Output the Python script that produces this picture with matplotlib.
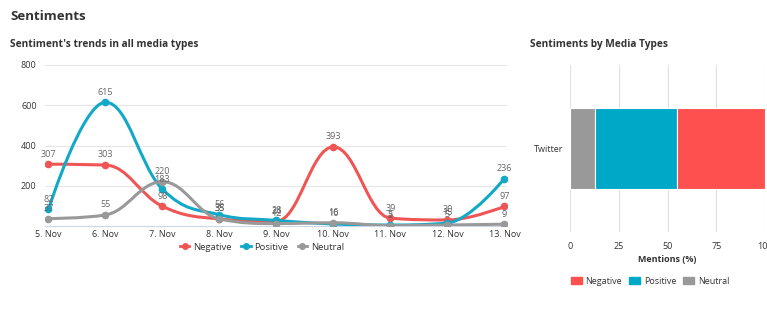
import matplotlib

matplotlib.use('Agg')
import matplotlib.pyplot as plt
from matplotlib.path import Path
from matplotlib.patches import PathPatch
from matplotlib.lines import Line2D
from matplotlib.patches import Patch
import numpy as np

# Data
days = ['5. Nov', '6. Nov', '7. Nov', '8. Nov', '9. Nov', '10. Nov', '11. Nov', '12. Nov', '13. Nov']
negative = [307, 303, 98, 35, 24, 393, 39, 30, 97]
positive = [82, 615, 183, 56, 28, 10, 5, 15, 236]
neutral = [37, 55, 220, 35, 12, 16, 2, 5, 9]

media_types = ['Twitter']
share_negative = [45]
share_positive = [42]
share_neutral = [13]

RED = '#f05555'
TEAL = '#12a9c8'
GRAY = '#999999'
BAR_RED = '#ff5050'
BAR_TEAL = '#00a8c8'
TEXT = '#333333'
LABEL = '#666666'


def splinePath(xs, ys, smoothing=1.5):
    # Highcharts-like spline: cubic bezier with control points from neighbours
    n = len(xs)
    ctrl = []
    for i in range(n):
        if i == 0 or i == n - 1:
            ctrl.append((xs[i], ys[i], xs[i], ys[i]))
            continue
        denom = smoothing + 1
        lx = (smoothing * xs[i] + xs[i - 1]) / denom
        ly = (smoothing * ys[i] + ys[i - 1]) / denom
        rx = (smoothing * xs[i] + xs[i + 1]) / denom
        ry = (smoothing * ys[i] + ys[i + 1]) / denom
        if rx != lx:
            corr = ((ry - ly) * (rx - xs[i])) / (rx - lx) + ys[i] - ry
            ly += corr
            ry += corr
        # avoid overshoot
        if ly > ys[i - 1] and ly > ys[i]:
            ly = max(ys[i - 1], ys[i])
            ry = 2 * ys[i] - ly
        elif ly < ys[i - 1] and ly < ys[i]:
            ly = min(ys[i - 1], ys[i])
            ry = 2 * ys[i] - ly
        if ry > ys[i + 1] and ry > ys[i]:
            ry = max(ys[i + 1], ys[i])
            ly = 2 * ys[i] - ry
        elif ry < ys[i + 1] and ry < ys[i]:
            ry = min(ys[i + 1], ys[i])
            ly = 2 * ys[i] - ry
        ctrl.append((lx, ly, rx, ry))
    verts = [(xs[0], ys[0])]
    codes = [Path.MOVETO]
    for i in range(1, n):
        verts += [(ctrl[i - 1][2], ctrl[i - 1][3]), (ctrl[i][0], ctrl[i][1]), (xs[i], ys[i])]
        codes += [Path.CURVE4] * 3
    return Path(verts, codes)


fig = plt.figure(figsize=(7.67, 3.22), dpi=100)
plt.rcParams['font.family'] = ['Open Sans', 'DejaVu Sans']

fig.text(10 / 767, 1 - 17 / 322, 'Sentiments', fontsize=9.5, fontweight='bold', color=TEXT, va='center')
fig.text(10 / 767, 1 - 45 / 322, "Sentiment's trends in all media types", fontsize=7.3, fontweight='bold',
         color=TEXT, va='center')
fig.text(530 / 767, 1 - 45 / 322, 'Sentiments by Media Types', fontsize=7.3, fontweight='bold',
         color=TEXT, va='center')

# ---- Line chart
ax = fig.add_axes([45 / 767, 1 - 226 / 322, 462 / 767, 161 / 322])
x = np.arange(len(days))
ax.set_xlim(-0.06, len(days) - 1 + 0.045)
ax.set_ylim(0, 800)
for series, color in [(negative, RED), (positive, TEAL), (neutral, GRAY)]:
    ax.add_patch(PathPatch(splinePath(x, series), facecolor='none', edgecolor=color, lw=2.2, zorder=3))
    ax.plot(x, series, 'o', color=color, ms=4.5, zorder=4)
    for xi, yi in zip(x, series):
        ax.annotate(str(yi), (xi, yi), xytext=(0, 4), textcoords='offset points', ha='center',
                    va='bottom', fontsize=6.5, color=LABEL, zorder=5)
ax.set_yticks([200, 400, 600, 800])
ax.set_yticklabels(['200', '400', '600', '800'])
ax.set_xticks(x)
ax.set_xticklabels(days)
ax.grid(axis='y', color='#e6e6e6', lw=0.8)
ax.set_axisbelow(True)
for s in ['top', 'right', 'left']:
    ax.spines[s].set_visible(False)
ax.spines['bottom'].set_color('#ccd6eb')
ax.tick_params(axis='y', length=0, labelsize=6.5, labelcolor=TEXT, pad=6)
ax.tick_params(axis='x', length=0, labelsize=6.5, labelcolor=TEXT, pad=3)

handles = [Line2D([], [], color=c, marker='o', ms=4, lw=2) for c in (RED, TEAL, GRAY)]
fig.legend(handles, ['Negative', 'Positive', 'Neutral'], loc='center', ncol=3,
           bbox_to_anchor=(262 / 767, 1 - 247 / 322), frameon=False, fontsize=6.8,
           handlelength=1.0, handletextpad=0.4, columnspacing=1.0, labelcolor=TEXT,
           borderpad=0.1)

# ---- Stacked bar chart
bx = fig.add_axes([570 / 767, 1 - 232 / 322, 195 / 767, 167 / 322])
y = np.arange(len(media_types))
left = np.zeros(len(media_types))
for vals, color in [(share_neutral, GRAY), (share_positive, BAR_TEAL), (share_negative, BAR_RED)]:
    bx.barh(y, vals, left=left, height=0.98, color=color, edgecolor='white', lw=0.8, zorder=3)
    left = left + np.array(vals)
bx.set_xlim(0, 100)
bx.set_ylim(-1, 1)
bx.set_yticks(y)
bx.set_yticklabels(media_types)
bx.set_xticks([0, 25, 50, 75, 100])
bx.set_xticklabels(['0', '25', '50', '75', '100'])
bx.grid(axis='x', color='#e0e0e0', lw=0.8)
bx.set_axisbelow(True)
for s in bx.spines.values():
    s.set_visible(False)
bx.tick_params(axis='both', length=0, labelsize=6.5, labelcolor=TEXT)
bx.tick_params(axis='x', pad=7)
bx.tick_params(axis='y', pad=5)
bx.set_xlabel('Mentions (%)', fontsize=6.5, fontweight='bold', color=TEXT, labelpad=3)

bhandles = [Patch(color=c) for c in (BAR_RED, BAR_TEAL, GRAY)]
fig.legend(bhandles, ['Negative', 'Positive', 'Neutral'], loc='center', ncol=3,
           bbox_to_anchor=(650 / 767, 1 - 281 / 322), frameon=False, fontsize=6.5,
           handlelength=1.2, handleheight=0.9, handletextpad=0.4, columnspacing=0.8, labelcolor=TEXT)

fig.savefig('out.png', dpi=100)
